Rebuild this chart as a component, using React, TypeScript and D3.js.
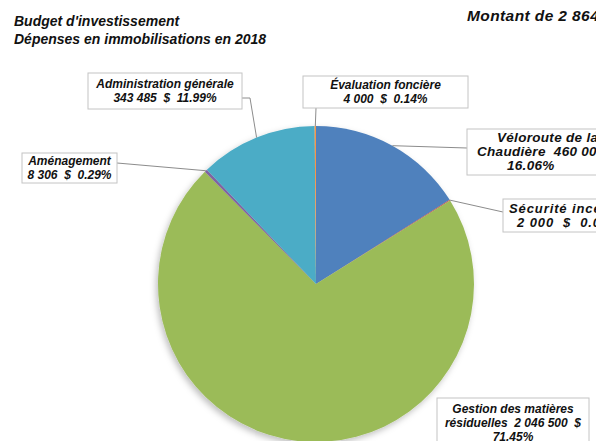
import React from 'react';
import * as d3 from 'd3';

// budget 2018, order as drawn clockwise from 12 o'clock
const categories = [
  'Véloroute de la Chaudière',
  'Sécurité incendie',
  'Gestion des matières résiduelles',
  'Aménagement',
  'Administration générale',
  'Évaluation foncière',
];
const amounts = [460000, 2000, 2046500, 8306, 343485, 4000];
const colors = ['#4F81BD', '#C0504D', '#9BBB59', '#8064A2', '#4BACC6', '#F79646'];

// label boxes: text lines split by hand, box position, leader start.
// starts = left x for each line when the text is not centred in its box
const labelLayout = [
  { lines: (a, p) => ['Véloroute de la', `Chaudière  ${a}  $`, p], x: 467, y: 129, w: 158, h: 46, lx: 467, ly: 148,
    starts: [497, 477, 507], fs: 13.5, ls: 0.3 },
  { lines: (a, p) => ['Sécurité incendie', `${a}  $  ${p}`], x: 503, y: 199, w: 130, h: 33, lx: 503, ly: 212,
    starts: [509, 517], fs: 13, ls: 0.9 },
  { lines: (a, p) => ['Gestion des matières', `résiduelles  ${a}  $`, p], x: 437, y: 398, w: 152, h: 50, lx: null, ly: null },
  { lines: (a, p) => ['Aménagement', `${a}  $  ${p}`], x: 22, y: 153, w: 95, h: 30, lx: 117, ly: 163 },
  { lines: (a, p) => ['Administration générale', `${a}  $  ${p}`], x: 88, y: 73, w: 154, h: 36, lx: 242, ly: 98, bend: 250 },
  { lines: (a, p) => ['Évaluation foncière', `${a}  $  ${p}`], x: 303, y: 76, w: 165, h: 32, lx: 316, ly: 108 },
];

const W = 596;
const H = 441;
const cx = 316;
const cy = 284;
const radius = 158;

const fmtAmount = (v: number) => d3.format(',')(v).replace(/,/g, ' ');
const fmtPct = d3.format('.2%');
const font = "'Liberation Sans', Arial, sans-serif";

export default function App() {
  const total = d3.sum(amounts);
  const data = amounts.map((v, i) => ({ name: categories[i], value: v, color: colors[i] }));
  const pie = d3.pie<any>().sort(null).value(d => d.value).startAngle(0).endAngle(2 * Math.PI);
  const arcs = pie(data);
  const arc = d3.arc<any>().innerRadius(0).outerRadius(radius);

  return (
    <svg width={W} height={H} style={{ position: 'absolute', left: 0, top: 0, background: '#fff' }}>
      <defs>
        <filter id="shadow" x="-10%" y="-10%" width="120%" height="120%">
          <feDropShadow dx="-2" dy="3" stdDeviation="3" floodColor="#000" floodOpacity="0.25" />
        </filter>
      </defs>

      <g fontFamily={font} fontWeight="bold" fontStyle="italic" fill="#111">
        <text x={14} y={26} fontSize={14}>Budget d'investissement</text>
        <text x={14} y={44} fontSize={14}>Dépenses en immobilisations en 2018</text>
        <text x={467} y={21} fontSize={15.5} letterSpacing={0.4} style={{ whiteSpace: 'pre' }}>
          {`Montant de ${fmtAmount(total)} $`}
        </text>
      </g>

      <g transform={`translate(${cx},${cy})`} filter="url(#shadow)">
        {arcs.map((a, i) => (
          <path key={i} d={arc(a) as string} fill={a.data.color} />
        ))}
      </g>

      {arcs.map((a, i) => {
        const lay = labelLayout[i];
        if (lay.lx == null) return null;
        const mid = (a.startAngle + a.endAngle) / 2;
        const px = cx + radius * Math.sin(mid);
        const py = cy - radius * Math.cos(mid);
        const pts = lay.bend ? [[lay.lx, lay.ly], [lay.bend, lay.ly], [px, py]] : [[lay.lx, lay.ly], [px, py]];
        return (
          <polyline key={'l' + i} points={pts.map(p => p.join(',')).join(' ')}
            fill="none" stroke="#8c8c8c" strokeWidth={1} />
        );
      })}

      {arcs.map((a, i) => {
        const lay = labelLayout[i];
        const lines = lay.lines(fmtAmount(a.data.value), fmtPct(a.data.value / total));
        const tx = lay.x + lay.w / 2;
        const lineH = 14;
        const y0 = lay.y + (lay.h - lines.length * lineH) / 2 + 11;
        return (
          <g key={'b' + i}>
            <rect x={lay.x} y={lay.y} width={lay.w} height={lay.h} fill="#fff" stroke="#c4c4c4" strokeWidth={1} />
            <text fontFamily={font} fontSize={lay.fs || 12} letterSpacing={lay.ls || 0} fontWeight="bold" fontStyle="italic" fill="#111"
              textAnchor={lay.starts ? 'start' : 'middle'} style={{ whiteSpace: 'pre' }}>
              {lines.map((t, j) => (
                <tspan key={j} x={lay.starts ? lay.starts[j] : tx} y={y0 + j * lineH}>{t}</tspan>
              ))}
            </text>
          </g>
        );
      })}
    </svg>
  );
}
